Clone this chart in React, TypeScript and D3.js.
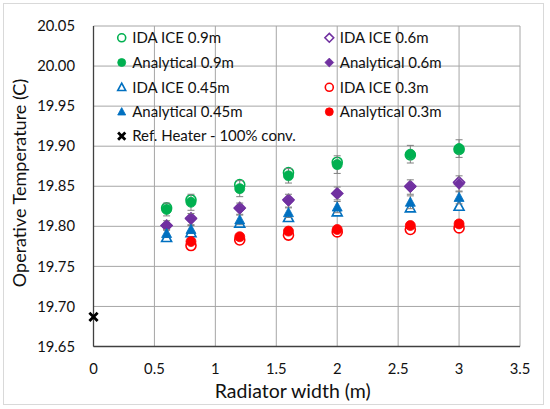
import React from 'react';
import * as d3 from 'd3';

// radiator widths (m)
const widths = [0.6, 0.8, 1.2, 1.6, 2.0, 2.6, 3.0];
const widthsRed = [0.8, 1.2, 1.6, 2.0, 2.6, 3.0];

// operative temperature (C)
const ida09 = [19.823, 19.833, 19.852, 19.867, 19.880, 19.889, 19.896];
const ana09 = [19.821, 19.830, 19.847, 19.863, 19.877, 19.890, 19.897];
const err09 = [0.008, 0.010, 0.010, 0.009, 0.011, 0.011, 0.011];

const ida06 = [19.801, 19.810, 19.823, 19.833, 19.841, 19.850, 19.855];
const ana06 = [19.801, 19.809, 19.822, 19.832, 19.841, 19.849, 19.853];
const err06 = [0.006, 0.007, 0.007, 0.008, 0.008, 0.009, 0.010];

const ida045 = [19.786, 19.792, 19.804, 19.811, 19.818, 19.823, 19.825];
const ana045 = [19.791, 19.796, 19.808, 19.817, 19.824, 19.830, 19.836];
const err045 = [0.005, 0.005, 0.006, 0.006, 0.007, 0.008, 0.008];

const ida03 = [19.776, 19.783, 19.789, 19.793, 19.796, 19.798];
const ana03 = [19.781, 19.787, 19.794, 19.796, 19.801, 19.803];
const err03 = [0.003, 0.003, 0.004, 0.004, 0.004, 0.004];

const refX = [0];
const refY = [19.687];

const xTicks = [0, 0.5, 1, 1.5, 2, 2.5, 3, 3.5];
const yTicks = [19.65, 19.7, 19.75, 19.8, 19.85, 19.9, 19.95, 20.0, 20.05];

type Shape = 'circle' | 'diamond' | 'triangle' | 'cross';

interface Series {
  name: string;
  xs: number[];
  ys: number[];
  err?: number[];
  color: string;
  shape: Shape;
  filled: boolean;
}

const GREEN = '#00B050';
const PURPLE = '#7030A0';
const BLUE = '#0070C0';
const RED = '#FF0000';

// drawing order: open (IDA ICE) first, filled (analytical) on top
const series: Series[] = [
  { name: 'IDA ICE 0.9m', xs: widths, ys: ida09, color: GREEN, shape: 'circle', filled: false },
  { name: 'IDA ICE 0.6m', xs: widths, ys: ida06, color: PURPLE, shape: 'diamond', filled: false },
  { name: 'Analytical 0.9m', xs: widths, ys: ana09, err: err09, color: GREEN, shape: 'circle', filled: true },
  { name: 'Analytical 0.6m', xs: widths, ys: ana06, err: err06, color: PURPLE, shape: 'diamond', filled: true },
  { name: 'IDA ICE 0.45m', xs: widths, ys: ida045, color: BLUE, shape: 'triangle', filled: false },
  { name: 'IDA ICE 0.3m', xs: widthsRed, ys: ida03, color: RED, shape: 'circle', filled: false },
  { name: 'Analytical 0.45m', xs: widths, ys: ana045, err: err045, color: BLUE, shape: 'triangle', filled: true },
  { name: 'Analytical 0.3m', xs: widthsRed, ys: ana03, err: err03, color: RED, shape: 'circle', filled: true },
  { name: 'Ref. Heater - 100% conv.', xs: refX, ys: refY, color: '#000', shape: 'cross', filled: true },
];

const W = 550;
const H = 409;
const plot = { left: 93.5, right: 520, top: 26, bottom: 346.5 };
const FONT = "Lato, 'Noto Sans', sans-serif";
const TEXT = '#111';

const markerPath = (shape: Shape, s: number) => {
  switch (shape) {
    case 'circle':
      return `M${-s},0A${s},${s} 0 1,0 ${s},0A${s},${s} 0 1,0 ${-s},0Z`;
    case 'diamond': {
      const d = s * 1.1;
      return `M0,${-d}L${d},0L0,${d}L${-d},0Z`;
    }
    case 'triangle':
      return `M0,${-s * 1.05}L${s},${s * 0.8}L${-s},${s * 0.8}Z`;
    default:
      return `M${-s * 0.75},${-s * 0.75}L${s * 0.75},${s * 0.75}M${s * 0.75},${-s * 0.75}L${-s * 0.75},${s * 0.75}`;
  }
};

const Marker = ({ s, x, y, size }: { s: Series; x: number; y: number; size: number }) => {
  if (s.shape === 'cross') {
    return <path d={markerPath('cross', size)} transform={`translate(${x},${y})`} stroke="#000" strokeWidth={2.8} fill="none" />;
  }
  return (
    <path
      d={markerPath(s.shape, size)}
      transform={`translate(${x},${y})`}
      fill={s.filled ? s.color : '#fff'}
      stroke={s.color}
      strokeWidth={s.filled ? 0.8 : 1.6}
    />
  );
};

// legend is laid out row-wise in two columns
const legendOrder = [0, 1, 2, 3, 4, 5, 6, 7, 8];
const legendCols = [121.7, 329.3];
const legendRowY = [37.8, 62.5, 87.3, 111.8, 136.2];

export default function App() {
  const x = d3.scaleLinear().domain([0, 3.5]).range([plot.left, plot.right]);
  const y = d3.scaleLinear().domain([19.65, 20.05]).range([plot.bottom, plot.top]);

  return (
    <svg
      width={W}
      height={H}
      style={{ position: 'absolute', left: 0, top: 0, display: 'block', background: '#fff' }}
      fontFamily={FONT}
    >
      <rect x={3.5} y={3.5} width={540} height={401} fill="#fff" stroke="#d9d9d9" />

      {/* grid */}
      {yTicks.map((t) => (
        <line key={'gy' + t} x1={plot.left} x2={plot.right} y1={y(t)} y2={y(t)} stroke="#a6a6a6" strokeWidth={1} />
      ))}
      {xTicks.map((t) => (
        <line key={'gx' + t} x1={x(t)} x2={x(t)} y1={plot.top} y2={plot.bottom} stroke="#a6a6a6" strokeWidth={1} />
      ))}

      {/* axes */}
      <line x1={plot.left} x2={plot.left} y1={plot.top} y2={plot.bottom} stroke="#404040" strokeWidth={1.3} />
      <line x1={plot.left} x2={plot.right} y1={plot.bottom} y2={plot.bottom} stroke="#404040" strokeWidth={1.3} />

      {/* tick labels */}
      {yTicks.map((t) => (
        <text key={'ty' + t} x={75} y={y(t)} dy="0.35em" textAnchor="end" fontSize={14.8} fill={TEXT}>
          {d3.format('.2f')(t)}
        </text>
      ))}
      {xTicks.map((t) => (
        <text key={'tx' + t} x={x(t)} y={369} dy="0.35em" textAnchor="middle" fontSize={14.8} fill={TEXT}>
          {String(t)}
        </text>
      ))}

      {/* axis titles */}
      <text x={(plot.left + plot.right) / 2 - 14} y={391} dy="0.35em" textAnchor="middle" fontSize={19.5} fill={TEXT}>
        Radiator width (m)
      </text>
      <text
        transform={`translate(20,${183}) rotate(-90)`}
        dy="0.35em"
        textAnchor="middle"
        fontSize={18}
        fill={TEXT}
      >
        Operative Temperature (C)
      </text>

      {/* series */}
      {series.map((s) => (
        <g key={s.name}>
          {s.err &&
            s.xs.map((xv, i) => {
              const cx = x(xv);
              const e = s.err![i];
              const y1 = y(s.ys[i] - e);
              const y2 = y(s.ys[i] + e);
              return (
                <g key={'e' + i} stroke="#7f7f7f" strokeWidth={1}>
                  <line x1={cx} x2={cx} y1={y1} y2={y2} />
                  <line x1={cx - 3.5} x2={cx + 3.5} y1={y1} y2={y1} />
                  <line x1={cx - 3.5} x2={cx + 3.5} y1={y2} y2={y2} />
                </g>
              );
            })}
          {s.xs.map((xv, i) => (
            <Marker key={i} s={s} x={x(xv)} y={y(s.ys[i])} size={s.shape === 'cross' ? 5.5 : 5} />
          ))}
        </g>
      ))}

      {/* legend */}
      {legendOrder.map((si, k) => {
        const s = series[si];
        const mx = legendCols[k % 2];
        const my = legendRowY[Math.floor(k / 2)];
        return (
          <g key={'lg' + s.name}>
            <Marker s={s} x={mx} y={my} size={s.shape === 'cross' ? 4.8 : 4} />
            <text x={mx + 10.5} y={my} dy="0.35em" fontSize={15} fill={TEXT}>
              {s.name}
            </text>
          </g>
        );
      })}
    </svg>
  );
}
